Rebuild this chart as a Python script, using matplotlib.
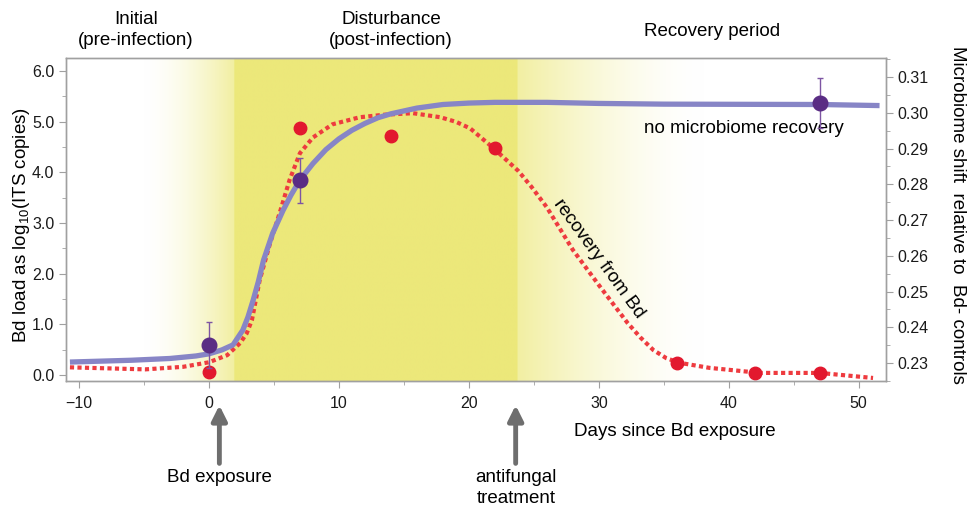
import numpy as np
import matplotlib
matplotlib.use("Agg")
import matplotlib.pyplot as plt
from matplotlib.ticker import MultipleLocator, FormatStrFormatter

plt.rcParams['font.family'] = ['Liberation Sans', 'DejaVu Sans']
plt.rcParams['mathtext.fontset'] = 'custom'
plt.rcParams['mathtext.rm'] = 'Liberation Sans'
plt.rcParams['mathtext.default'] = 'regular'

# Bd load curve (left axis)
bd_days = [-10.7, -4.9, -2, 0, 1.4, 2.4, 2.9, 3.3, 3.9, 4.7, 5.5, 6.2, 7, 8,
           9.5, 11.6, 13.5, 15.7, 17.8, 19.0, 20.1, 21.8, 23.8, 24.8, 26, 28,
           30.1, 32.2, 33.2, 34.2, 35.2, 36.2, 38.5, 42.4, 47, 51.1]
bd_curve = [0.15, 0.11, 0.16, 0.25, 0.39, 0.63, 0.82, 1.08, 1.87, 2.6, 3.25,
            3.85, 4.38, 4.69, 4.95, 5.09, 5.14, 5.17, 5.09, 5.0, 4.87, 4.5,
            4.03, 3.72, 3.31, 2.47, 1.74, 1.03, 0.74, 0.49, 0.33, 0.24, 0.14,
            0.04, 0.04, -0.06]

# Bd load measurements
bd_pt_days = [0, 7, 14, 22, 36, 42, 47]
bd_pt_load = [0.05, 4.87, 4.72, 4.49, 0.24, 0.03, 0.04]

# microbiome shift curve (right axis)
mb_days = [-10.7, -6, -3, -1, 0, 1, 1.85, 2.6, 3.0, 3.4, 3.8, 4.2, 4.9, 5.7,
           6.3, 7, 8, 9, 10, 11, 12, 13, 14, 16, 18, 20, 22, 26, 30, 35, 47,
           51.6]
mb_curve = [0.2303, 0.2308, 0.2313, 0.2320, 0.2326, 0.2337, 0.2351, 0.2392,
            0.2429, 0.2476, 0.2528, 0.2588, 0.2663, 0.2727, 0.2769, 0.2812,
            0.2858, 0.2897, 0.2927, 0.2951, 0.2970, 0.2986, 0.2997, 0.3013,
            0.3023, 0.3027, 0.3029, 0.3029, 0.3026, 0.3024, 0.3023, 0.3020]

# microbiome shift measurements with error bars
mb_pt_days = [0, 7, 47]
mb_pt_shift = [0.2350, 0.2811, 0.3026]
mb_pt_err = [0.0064, 0.0062, 0.0070]

yellow = np.array([236, 232, 122]) / 255

fig = plt.figure(figsize=(9.71, 5.07), dpi=100)
ax = fig.add_axes([0.068, 0.2485, 0.8445, 0.6371])
ax2 = ax.twinx()

xlo, xhi = -11.0, 52.1
ylo, yhi = -0.12, 6.26

# shaded disturbance band with soft edges
xs = np.linspace(xlo, xhi, 1200)
alpha = np.zeros_like(xs)
left_fade = (xs >= -5) & (xs < 1.9)
alpha[left_fade] = ((xs[left_fade] + 5) / 6.9) ** 1.6 * 0.7
alpha[(xs >= 1.9) & (xs <= 23.7)] = 1.0
right_fade = (xs > 23.7) & (xs < 38)
alpha[right_fade] = (1 - (xs[right_fade] - 23.7) / 14.3) ** 1.6 * 0.7
img = np.ones((1, len(xs), 3))
img[0] = 1 - alpha[:, None] * (1 - yellow)
ax.imshow(img, extent=[xlo, xhi, ylo, yhi], aspect='auto', zorder=0,
          interpolation='bilinear')

ax.plot(bd_days, bd_curve, color='#ee3b3f', lw=3.0, dashes=(1, 0.8),
        dash_capstyle='butt', zorder=3)
ax.plot(bd_pt_days, bd_pt_load, 'o', color='#e2182e', ms=9, zorder=4)

ax2.plot(mb_days, mb_curve, color='#8785c6', lw=3.8, solid_capstyle='butt',
         solid_joinstyle='round', zorder=2)
ax2.errorbar(mb_pt_days, mb_pt_shift, yerr=mb_pt_err, fmt='o', color='#5a2d84',
             ms=10.5, ecolor='#7d55a3', elinewidth=1, capsize=2.5, capthick=1,
             zorder=5)

ax.set_xlim(xlo, xhi)
ax.set_ylim(ylo, yhi)
ax2.set_ylim(0.225, 0.3153)

grey = '#a0a0a0'
for a in (ax, ax2):
    for s in a.spines.values():
        s.set_color(grey)
        s.set_linewidth(1)
    a.tick_params(which='both', color=grey, labelcolor='#1a1a1a',
                  labelsize=11.5)
    a.tick_params(which='major', length=5)
    a.tick_params(which='minor', length=3)

ax.xaxis.set_major_locator(MultipleLocator(10))
ax.xaxis.set_minor_locator(MultipleLocator(5))
ax.yaxis.set_major_locator(MultipleLocator(1))
ax.yaxis.set_minor_locator(MultipleLocator(0.5))
ax.yaxis.set_major_formatter(FormatStrFormatter('%.1f'))
ax2.yaxis.set_major_locator(MultipleLocator(0.01))
ax2.yaxis.set_minor_locator(MultipleLocator(0.005))
ax2.yaxis.set_major_formatter(FormatStrFormatter('%.2f'))
ax.tick_params(axis='x', pad=6)

fs = 13.5
W, H = 971, 507
fig.text(136 / W, 1 - 30 / H, 'Initial\n(pre-infection)', ha='center',
         va='center', fontsize=fs, linespacing=1.3)
fig.text(391 / W, 1 - 30 / H, 'Disturbance\n(post-infection)', ha='center',
         va='center', fontsize=fs, linespacing=1.3)
fig.text(712 / W, 1 - 31 / H, 'Recovery period', ha='center', va='center',
         fontsize=fs)
fig.text(675 / W, 1 - 432 / H, 'Days since Bd exposure', ha='center',
         va='center', fontsize=fs)
fig.text(22 / W, 1 - 225 / H, r'Bd load as log$_{10}$(ITS copies)',
         ha='center', va='center', rotation=90, fontsize=fs)
fig.text(957 / W, 1 - 215 / H, 'Microbiome shift  relative to  Bd- controls',
         ha='center', va='center', rotation=270, fontsize=fs)
fig.text(219 / W, 1 - 477 / H, 'Bd exposure', ha='center', va='center',
         fontsize=fs)
fig.text(516 / W, 1 - 488 / H, 'antifungal\ntreatment', ha='center',
         va='center', fontsize=fs, linespacing=1.3)

ax.text(33.5, 4.87, 'no microbiome recovery', ha='left', va='center',
        fontsize=fs, zorder=6)
ax.text(30.0, 2.3, 'recovery from Bd', ha='center', va='center',
        rotation=-54, fontsize=fs, zorder=6)

arrow_props = dict(arrowstyle='-|>,head_width=0.45,head_length=0.9',
                   color='#6e6e6e', lw=3.5, shrinkA=0, shrinkB=0)
for day in (0.8, 23.6):
    ax.annotate('', xy=(day, -0.075), xytext=(day, -0.255),
                xycoords=('data', 'axes fraction'),
                textcoords=('data', 'axes fraction'),
                arrowprops=arrow_props, annotation_clip=False)

fig.savefig('out.png', dpi=100)
